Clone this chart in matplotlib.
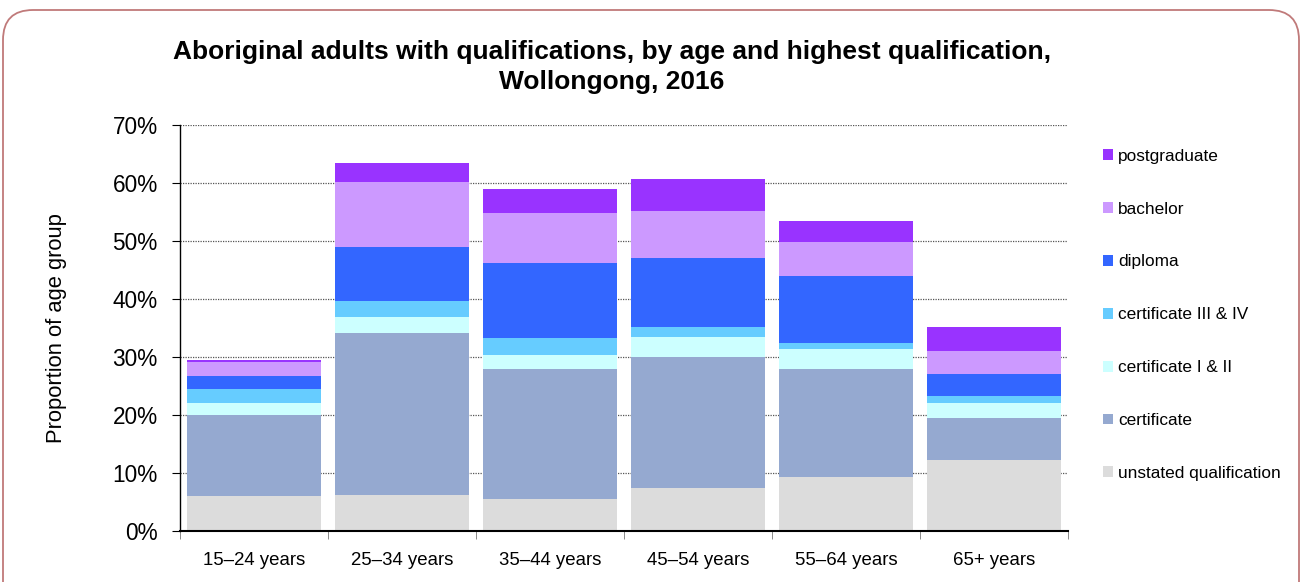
import numpy as np
import matplotlib.pyplot as plt
from matplotlib.patches import FancyBboxPatch, Patch
from matplotlib.transforms import IdentityTransform

plt.rcParams['font.family'] = ['Liberation Sans', 'DejaVu Sans']

ages = ["15–24 years", "25–34 years", "35–44 years", "45–54 years", "55–64 years", "65+ years"]

# share of each age group (%), bottom of stack first
unstated = [6.0, 6.2, 5.6, 7.5, 9.3, 12.3]
certificate = [14.0, 27.9, 22.3, 22.5, 18.6, 7.2]
cert_1_2 = [2.0, 2.8, 2.4, 3.5, 3.4, 2.6]
cert_3_4 = [2.5, 2.8, 3.0, 1.6, 1.1, 1.1]
diploma = [2.3, 9.2, 12.9, 11.9, 11.5, 3.9]
bachelor = [2.4, 11.2, 8.7, 8.1, 6.0, 4.0]
postgrad = [0.3, 3.3, 4.0, 5.6, 3.5, 4.0]

series = [
    ("unstated qualification", unstated, "#dcdcdc"),
    ("certificate", certificate, "#95a9d0"),
    ("certificate I & II", cert_1_2, "#ccffff"),
    ("certificate III & IV", cert_3_4, "#66ccff"),
    ("diploma", diploma, "#3366ff"),
    ("bachelor", bachelor, "#cc99ff"),
    ("postgraduate", postgrad, "#9933ff"),
]

fig = plt.figure(figsize=(13.04, 5.82), dpi=100)
ax = fig.add_axes([180/1304, 1 - 531/582, 888/1304, 406/582])

x = np.arange(len(ages))
bottom = np.zeros(len(ages))
handles = []
for name, vals, col in series:
    ax.bar(x, vals, width=0.91, bottom=bottom, color=col, linewidth=0, zorder=2)
    bottom += np.array(vals)
    handles.append(Patch(facecolor=col, edgecolor="none", label=name))

ax.set_xlim(-0.5, len(ages) - 0.5)
ax.set_ylim(0, 70)
ax.set_yticks(np.arange(0, 71, 10))
ax.set_yticklabels([f"{v}%" for v in range(0, 71, 10)], fontsize=16.3)
ax.yaxis.grid(True, linestyle=(0, (1, 1)), color="#555555", linewidth=0.9, zorder=0)
ax.set_axisbelow(True)

ax.set_xticks(x)
ax.set_xticklabels(ages, fontsize=13.4)
ax.set_xticks(np.arange(-0.5, len(ages)), minor=True)
ax.tick_params(axis="x", which="major", length=0, pad=15)
ax.tick_params(axis="x", which="minor", length=6, direction="out", color="#777777")
ax.tick_params(axis="y", length=6, direction="out", pad=10)

for s in ("top", "right"):
    ax.spines[s].set_visible(False)
ax.spines["left"].set_linewidth(1.0)
ax.spines["bottom"].set_linewidth(1.5)

ax.set_ylabel("Proportion of age group", fontsize=15.8)
ax.yaxis.set_label_coords(-113/888, 0.5)

fig.text(0.469, 1 - 67/582, "Aboriginal adults with qualifications, by age and highest qualification,\nWollongong, 2016",
         ha="center", va="center", fontsize=19, fontweight="bold", linespacing=1.28)

fig.legend(handles=handles[::-1], loc="upper left", bbox_to_anchor=(1094/1304, 1 - 140/582),
           frameon=False, fontsize=12.4, handlelength=0.6, handleheight=0.6,
           handletextpad=0.3, labelspacing=2.2, borderpad=0)

# rounded outline around the whole chart
frame = FancyBboxPatch((3, -40), 1296, 612, boxstyle="round,pad=0,rounding_size=30",
                       transform=IdentityTransform(), facecolor="none",
                       edgecolor="#c07a7a", linewidth=1.3)
fig.patches.append(frame)

fig.savefig("out.png", dpi=100)
